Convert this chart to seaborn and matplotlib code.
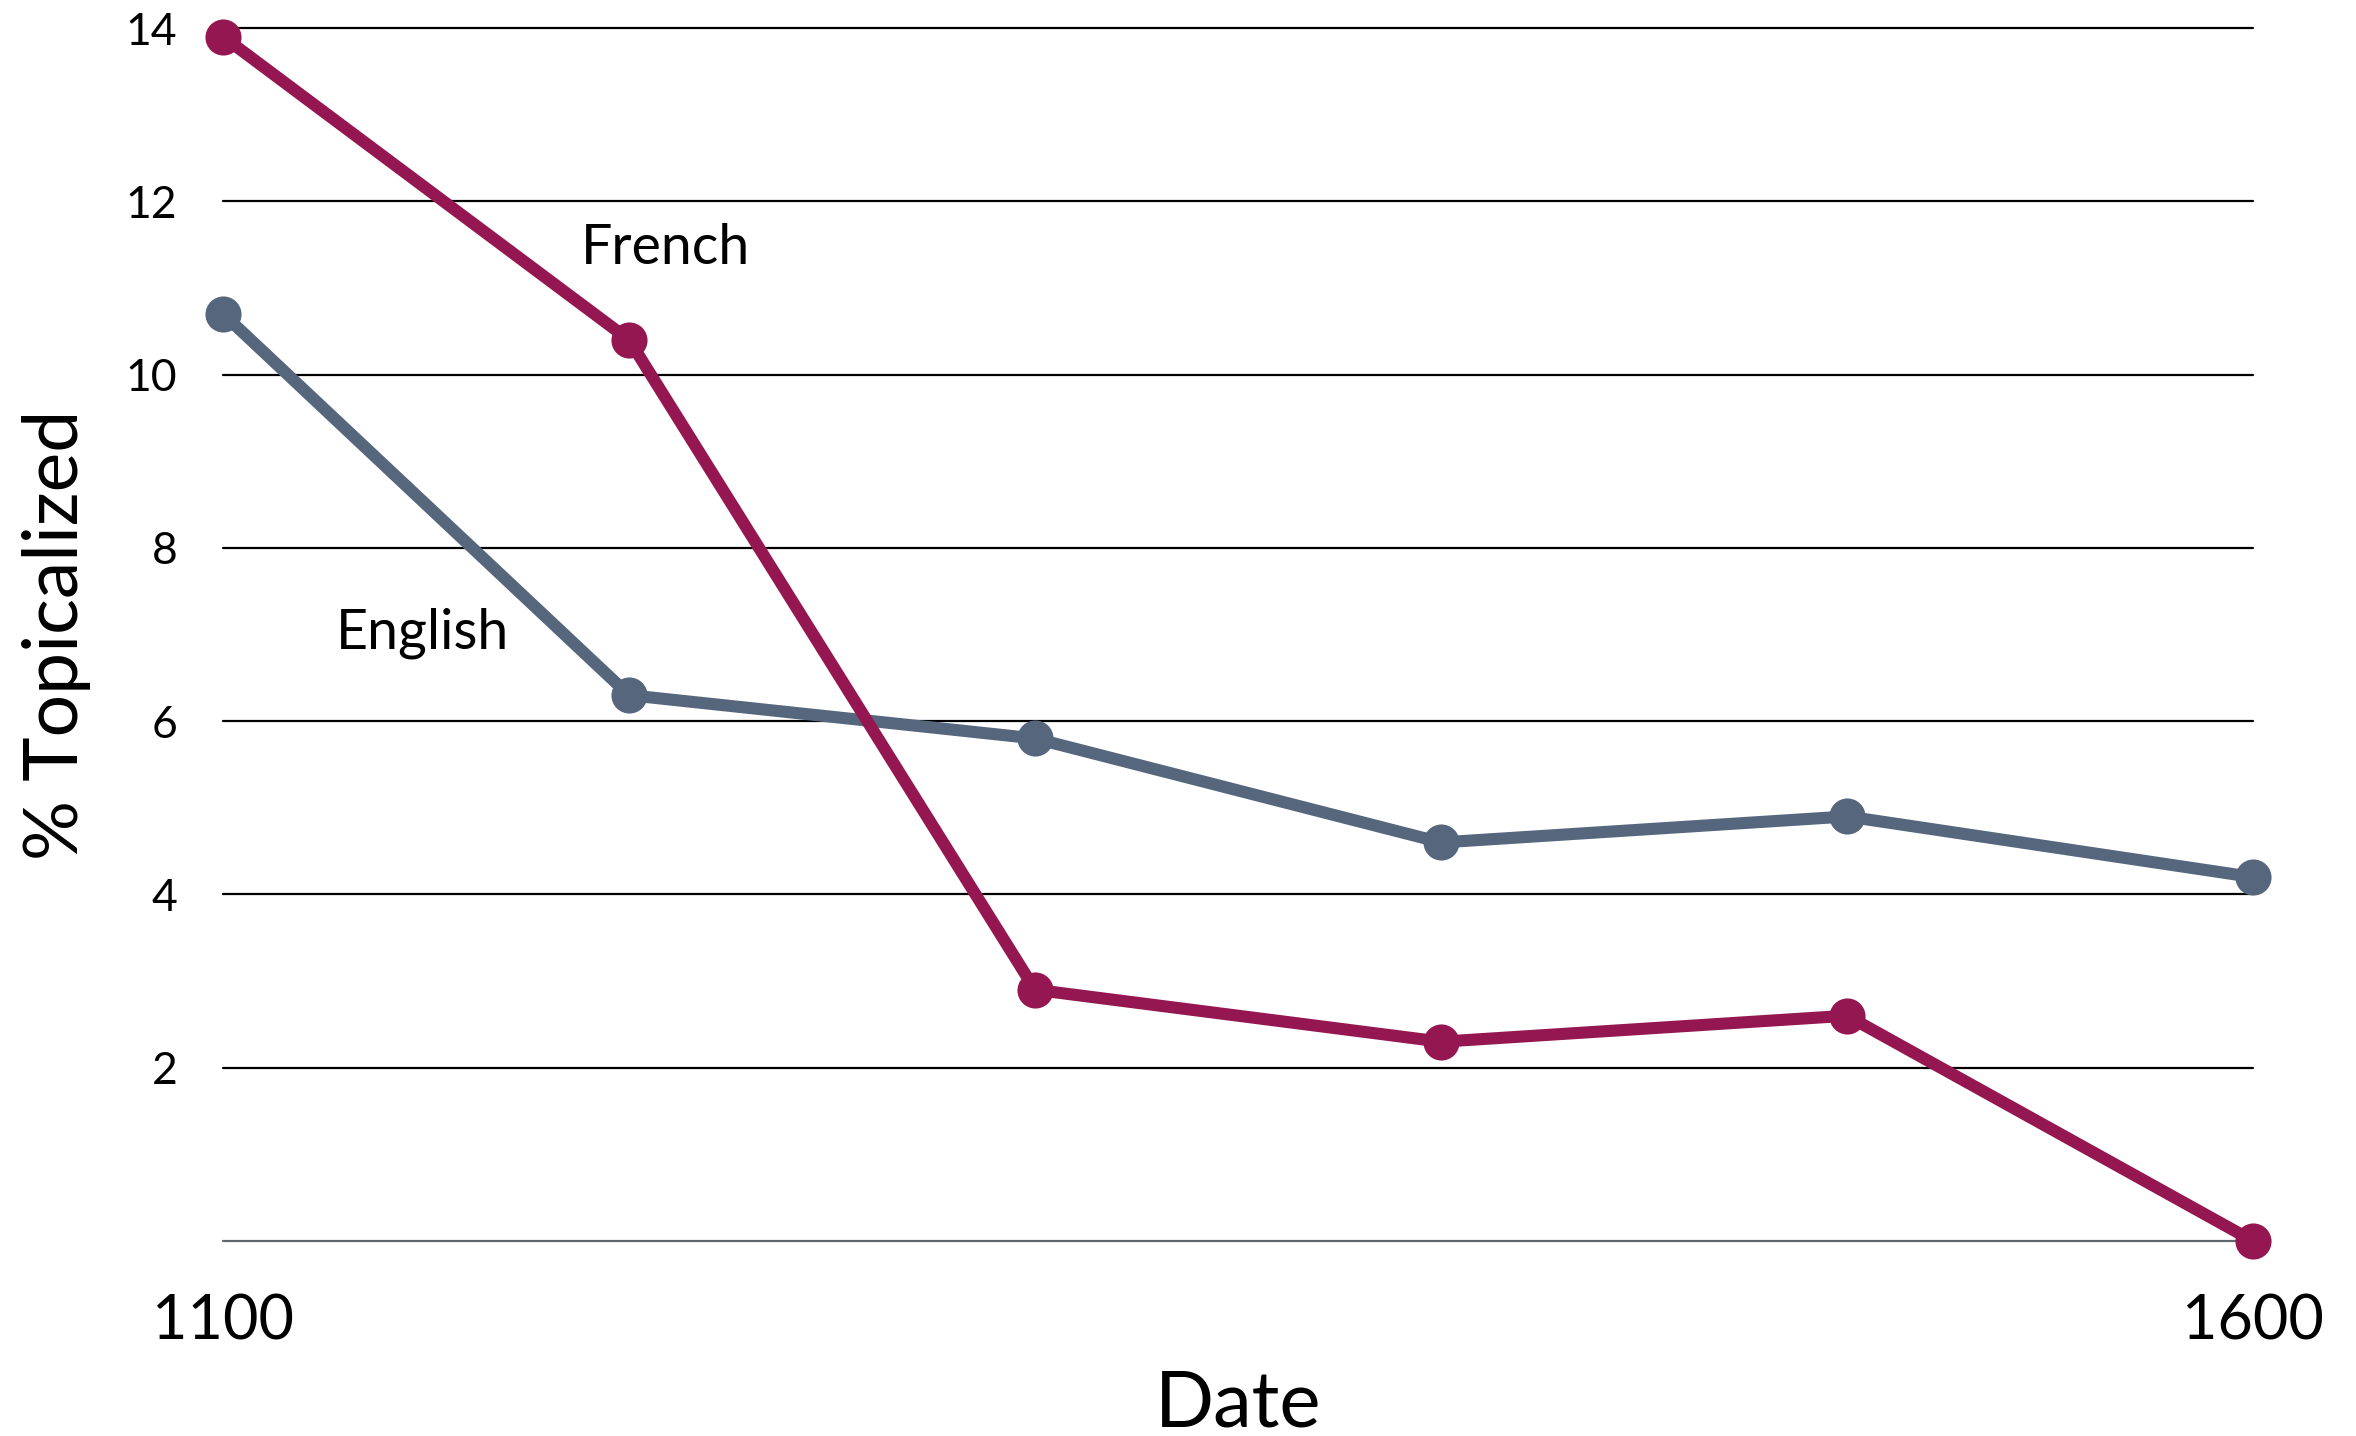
import numpy as np
import pandas as pd
import matplotlib
matplotlib.use('Agg')
import matplotlib.pyplot as plt
import seaborn as sns

# ========== 样式 ==========
sns.set_style('white')
plt.rcParams['font.family'] = ['Lato', 'DejaVu Sans']
plt.rcParams['text.color'] = 'black'
plt.rcParams['axes.labelcolor'] = 'black'
plt.rcParams['xtick.color'] = 'black'
plt.rcParams['ytick.color'] = 'black'
C_FRENCH = '#951751'
C_ENGLISH = '#55667d'
C_BASE = '#5f6670'

# ========== 数据 ==========
dates = [1100, 1200, 1300, 1400, 1500, 1600]
french = [13.9, 10.4, 2.9, 2.3, 2.6, 0.0]
english = [10.7, 6.3, 5.8, 4.6, 4.9, 4.2]
y_ticks = [2, 4, 6, 8, 10, 12, 14]
x_ticks = [1100, 1600]

df = pd.DataFrame({
    'Date': dates * 2,
    'pct': french + english,
    'lang': ['French'] * len(dates) + ['English'] * len(dates),
})

fig = plt.figure(figsize=(23.56, 14.36), dpi=100)
ax = fig.add_axes([0.0947, 0.1358, 0.8616, 0.8447])

# 网格线
for y in y_ticks:
    ax.axhline(y, color='black', linewidth=1.6, zorder=1)
ax.axhline(0, color=C_BASE, linewidth=1.6, zorder=1)

sns.lineplot(data=df, x='Date', y='pct', hue='lang',
             palette={'French': C_FRENCH, 'English': C_ENGLISH},
             hue_order=['English', 'French'],
             marker='o', markersize=26, markeredgewidth=0,
             linewidth=8.7, legend=False, ax=ax, zorder=3)
for ln in ax.lines:
    ln.set_clip_on(False)

ax.set_xlim(1100, 1600)
ax.set_ylim(0, 14)
ax.set_xticks(x_ticks)
ax.set_yticks(y_ticks)
ax.tick_params(axis='y', length=0, pad=33, labelsize=32, labelcolor='black')
ax.tick_params(axis='x', length=0, pad=38, labelsize=44, labelcolor='black')
for s in ax.spines.values():
    s.set_visible(False)

ax.set_xlabel('Date', fontsize=56, color='black')
ax.xaxis.label.set_va('center')
ax.xaxis.set_label_coords(0.5, -0.135)
ax.set_ylabel('% Topicalized', fontsize=54, color='black')
ax.yaxis.label.set_va('center')
ax.yaxis.set_label_coords(-0.082, 0.5)

ax.text(1209, 11.46, 'French', fontsize=40, ha='center', va='center', color='black')
ax.text(1149, 7.02, 'English', fontsize=40, ha='center', va='center', color='black')

plt.savefig('out.png', dpi=100)
